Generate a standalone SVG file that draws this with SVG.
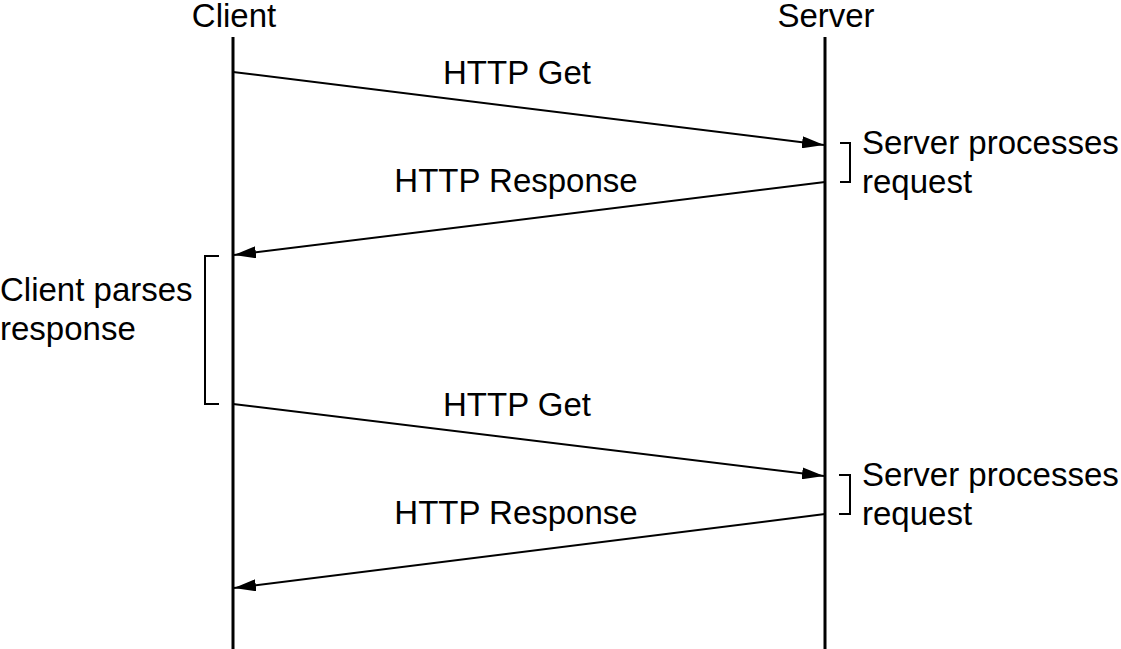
<svg xmlns="http://www.w3.org/2000/svg" width="1121" height="649" viewBox="0 0 1121 649">
<style>
text{font-family:"Liberation Sans",Arial,sans-serif;font-size:33px;fill:#000}
.life{stroke:#000;stroke-width:3;fill:none}
.msg{stroke:#000;stroke-width:2;fill:none}
.br{stroke:#000;stroke-width:2;fill:none}
.mid{text-anchor:middle}
</style>
<defs>
<marker id="ah" viewBox="0 0 22 12" refX="22" refY="6" markerWidth="22" markerHeight="12" markerUnits="userSpaceOnUse" orient="auto">
<path d="M0,0 L22,6 L0,12 Z" fill="#000"/>
</marker>
</defs>
<g id="client">
<text class="mid" x="234" y="27">Client</text>
<line class="life" x1="233" y1="37" x2="233" y2="649"/>
</g>
<g id="server">
<text class="mid" x="826" y="27">Server</text>
<line class="life" x1="825" y1="37" x2="825" y2="649"/>
</g>
<g id="connectors">
<line class="msg" x1="233" y1="72" x2="824" y2="145" marker-end="url(#ah)"/>
<line class="msg" x1="825" y1="182" x2="234" y2="255" marker-end="url(#ah)"/>
<line class="msg" x1="233" y1="404" x2="824" y2="476" marker-end="url(#ah)"/>
<line class="msg" x1="825" y1="514" x2="234" y2="588" marker-end="url(#ah)"/>
</g>
<g id="labels">
<text class="mid" x="517" y="84">HTTP Get</text>
<text class="mid" x="516" y="192">HTTP Response</text>
<text class="mid" x="517" y="416">HTTP Get</text>
<text class="mid" x="516" y="524">HTTP Response</text>
</g>
<g id="server-process-1">
<path class="br" d="M840,143 H850 V182 H840"/>
<text x="862" y="154">Server processes</text>
<text x="862" y="193">request</text>
</g>
<g id="server-process-2">
<path class="br" d="M839,475 H850 V514 H839"/>
<text x="862" y="486">Server processes</text>
<text x="862" y="525">request</text>
</g>
<g id="client-parse">
<path class="br" d="M219,256 H205 V404 H219"/>
<text x="0" y="301">Client parses</text>
<text x="0" y="340">response</text>
</g>
</svg>
